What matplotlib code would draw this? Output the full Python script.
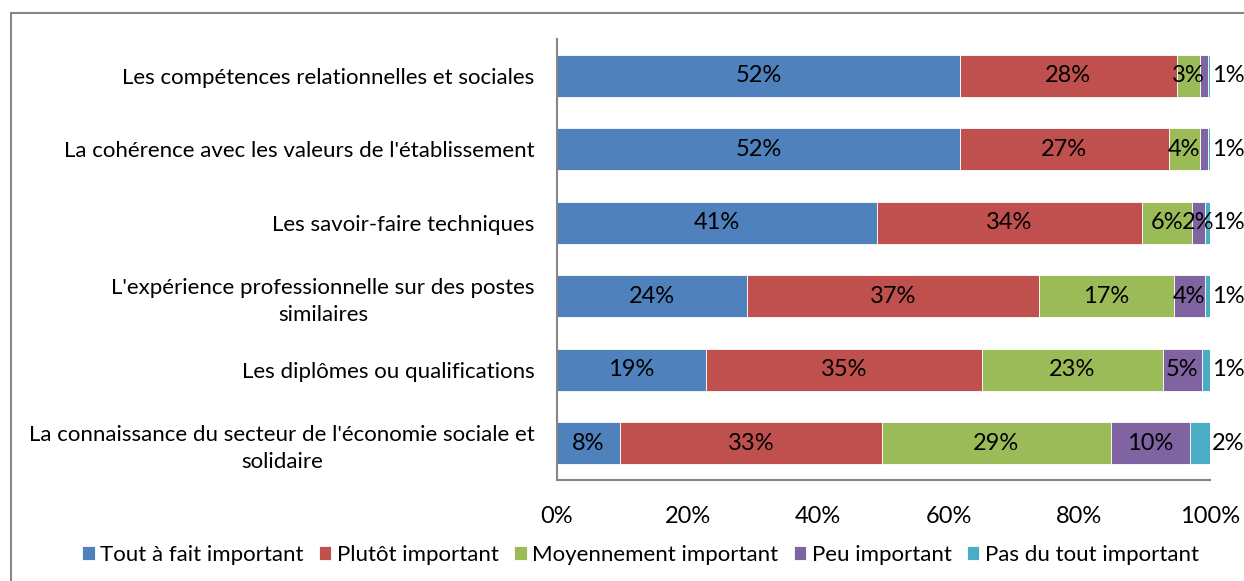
import numpy as np
import matplotlib.pyplot as plt
from matplotlib.patches import Rectangle

plt.rcParams['font.family'] = ['Lato', 'DejaVu Sans']

categories = [
    "Les compétences relationnelles et sociales",
    "La cohérence avec les valeurs de l'établissement",
    "Les savoir-faire techniques",
    "L'expérience professionnelle sur des postes\nsimilaires",
    "Les diplômes ou qualifications",
    "La connaissance du secteur de l'économie sociale et\nsolidaire",
]
series_names = ["Tout à fait important", "Plutôt important", "Moyennement important",
                "Peu important", "Pas du tout important"]

# raw shares (% of respondents), bars are normalised to 100 %
tout_a_fait = [52, 52, 41, 24, 19, 8]
plutot = [28, 27, 34, 37, 35, 33]
moyennement = [3, 4, 6.4, 17, 23, 29]
peu = [1, 1, 1.6, 4, 5, 10]
pas_du_tout = [0.3, 0.3, 0.7, 0.6, 1, 2.5]

colors = ['#4F81BD', '#C0504D', '#9BBB59', '#8064A2', '#4BACC6']

data = np.array([tout_a_fait, plutot, moyennement, peu, pas_du_tout])
shares = data / data.sum(axis=0)

fig = plt.figure(figsize=(12.44, 5.81), dpi=100)
ax = fig.add_axes([0.4477, 0.1738, 0.5250, 0.7590])

LBL = 17
y = np.arange(len(categories))
left = np.zeros(len(categories))
for i, name in enumerate(series_names):
    ax.barh(y, shares[i], left=left, height=0.57, color=colors[i],
            edgecolor='white', linewidth=0.6, label=name)
    for j in range(len(categories)):
        v = data[i, j]
        x = left[j] + shares[i, j] / 2
        if i == 4:
            if round(v) >= 1:
                ax.text(1.003, y[j], f"{round(v)}%", ha='left', va='center',
                        fontsize=LBL, clip_on=False)
        elif i == 3 and v < 1.5:
            if pas_du_tout[j] < 0.5:
                ax.text(1.003, y[j], f"{round(v)}%", ha='left', va='center',
                        fontsize=LBL, clip_on=False)
        else:
            ax.text(x, y[j], f"{round(v)}%", ha='center', va='center', fontsize=LBL)
    left += shares[i]

ax.set_xlim(0, 1)
ax.set_ylim(len(categories) - 0.5, -0.5)
ax.set_yticks(y)
ax.set_yticklabels(categories, fontsize=16, multialignment='center', linespacing=1.45)
ax.set_xticks(np.linspace(0, 1, 6))
ax.set_xticklabels([f"{int(t)}%" for t in np.linspace(0, 100, 6)], fontsize=17)
ax.tick_params(axis='both', length=0)
ax.tick_params(axis='x', pad=19)
ax.tick_params(axis='y', pad=16)
for s in ['top', 'right']:
    ax.spines[s].set_visible(False)
for s in ['left', 'bottom']:
    ax.spines[s].set_color('#868686')
    ax.spines[s].set_linewidth(1.5)

handles, labels = ax.get_legend_handles_labels()
fig.legend(handles, labels, loc='center', bbox_to_anchor=(0.515, 0.045), ncol=5,
           frameon=False, fontsize=16, handlelength=0.55, handleheight=0.55,
           handletextpad=0.25, columnspacing=0.7)

# outer chart frame
fig.patches.append(Rectangle((11 / 1244, -0.1), 1.2, 1.1 - 13 / 581,
                             transform=fig.transFigure, fill=False,
                             edgecolor='#868686', linewidth=1.5))

fig.savefig('out.png', dpi=100)
